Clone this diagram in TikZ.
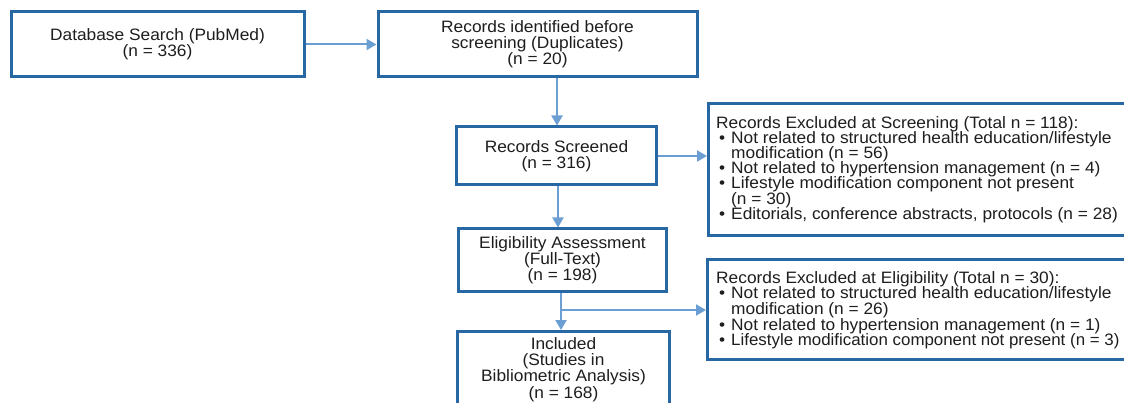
\documentclass[tikz,border=0pt]{standalone}
\usepackage{fontspec}
\setmainfont{Liberation Sans}[FakeStretch=1.05]
\usetikzlibrary{arrows.meta}
\setlength{\lineskiplimit}{-20pt}
\definecolor{boxblue}{HTML}{2767A3}
\definecolor{arrblue}{HTML}{6B9FD3}
\definecolor{txt}{HTML}{1E1E1E}
\tikzset{
  flowbox/.style={draw=boxblue, line width=3pt, fill=white, inner sep=0pt, align=center,
    text=txt, font=\fontsize{16.5}{16.2}\selectfont},
  listbox/.style={draw=boxblue, line width=3pt, fill=white, inner sep=0pt},
  listtext/.style={anchor=north west, inner sep=0pt, align=left, text=txt,
    font=\fontsize{16.5}{#1}\selectfont},
  flowarrow/.style={draw=arrblue, line width=2pt, -{Triangle[length=10pt,width=11pt]}},
  flowline/.style={draw=arrblue, line width=2pt}
}
\newcommand{\bitem}{\hspace*{3pt}\makebox[12pt][l]{•}}
\newcommand{\bcont}{\hspace*{15pt}}
\begin{document}
\begin{tikzpicture}[x=1pt,y=-1pt]
\useasboundingbox (0,0) rectangle (1124,403);
\clip (0,0) rectangle (1124,403);
\fill[white] (0,0) rectangle (1124,403);
% boxes
\node[flowbox, minimum width=293pt, minimum height=65pt] (db) at (157.5,44.5)
  {Database Search (PubMed)\\(n = 336)};
\node[flowbox, minimum width=319pt, minimum height=65pt] (dup) at (537.5,44.5)
  {Records identified before\\screening (Duplicates)\\(n = 20)};
\node[flowbox, minimum width=200pt, minimum height=58pt] (scr) at (556.5,156)
  {Records Screened\\(n = 316)};
\node[flowbox, minimum width=208pt, minimum height=63pt] (elig) at (562.5,260.5)
  {Eligibility Assessment\\(Full-Text)\\(n = 198)};
\node[flowbox, anchor=north, minimum width=212pt, inner ysep=6pt] (incl) at (563.5,330)
  {Included\\(Studies in\\Bibliometric Analysis)\\(n = 168)};
% list boxes
\node[listbox, anchor=north west, minimum width=440pt, minimum height=132pt] (exs) at (707,102) {};
\node[listtext=15.2] (exst) at (716,116) {Records Excluded at Screening (Total n = 118):\\
\bitem Not related to structured health education/lifestyle\\
\bcont modification (n = 56)\\
\bitem Not related to hypertension management (n = 4)\\
\bitem Lifestyle modification component not present\\
\bcont (n = 30)\\
\bitem Editorials, conference abstracts, protocols (n = 28)};
\node[listbox, anchor=north west, minimum width=440pt, minimum height=100pt] (exe) at (706,258) {};
\node[listtext=15.7] (exet) at (716,271) {Records Excluded at Eligibility (Total n = 30):\\
\bitem Not related to structured health education/lifestyle\\
\bcont modification (n = 26)\\
\bitem Not related to hypertension management (n = 1)\\
\bitem \scalebox{0.975}[1]{Lifestyle modification component not present (n = 3)}};
% connectors
\draw[flowarrow] (db.east) -- (dup.west);
\draw[flowarrow] (dup.south -| 557,0) -- (scr.north -| 557,0);
\draw[flowarrow] (scr.east) -- (scr.east -| exs.west);
\draw[flowarrow] (scr.south -| 558,0) -- (elig.north -| 558,0);
\coordinate (split) at (561,310);
\draw[flowline] (elig.south -| split) -- (split);
\draw[flowarrow] (split) -- (incl.north -| split);
\draw[flowarrow] (split) -- (split -| exe.west);
\end{tikzpicture}
\end{document}
